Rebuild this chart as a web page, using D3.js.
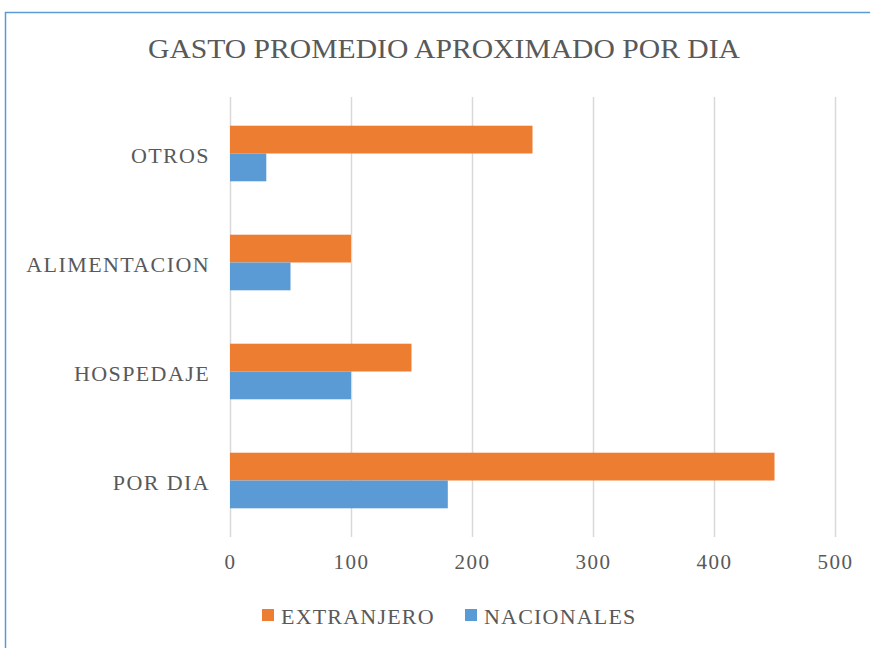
<!DOCTYPE html>
<html>
<head>
<meta charset="utf-8">
<script src="https://cdn.jsdelivr.net/npm/d3@7"></script>
<style>
  body { margin: 0; background: #ffffff; }
  #chart { width: 870px; height: 648px; }
  text { font-family: 'Liberation Serif', 'DejaVu Serif', serif; fill: #595959; }
</style>
</head>
<body>
<div id="chart"></div>
<script>
const categories = ['OTROS', 'ALIMENTACION', 'HOSPEDAJE', 'POR DIA'];
const seriesNames = ['EXTRANJERO', 'NACIONALES'];
const extranjero = [250, 100, 150, 450];
const nacionales = [30, 50, 100, 180];
const xTicks = [0, 100, 200, 300, 400, 500];
const colors = ['#ED7D31', '#5B9BD5'];

const rows = categories.map((c, i) => ({ cat: c, values: [extranjero[i], nacionales[i]] }));

const svg = d3.select('#chart').append('svg')
  .attr('width', 870)
  .attr('height', 648);

// outer chart border (cut off at right/bottom like the screenshot)
svg.append('rect')
  .attr('x', 5.5)
  .attr('y', 12.5)
  .attr('width', 880)
  .attr('height', 660)
  .attr('fill', '#ffffff')
  .attr('stroke', '#5B9BD5')
  .attr('stroke-width', 1.5);

const plot = { left: 230, right: 835, top: 97, bottom: 537 };

const x = d3.scaleLinear().domain([0, 500]).range([plot.left, plot.right]);
const y = d3.scaleBand().domain(categories).range([99, 535]).paddingInner(0.49).paddingOuter(0.245);
const ySub = d3.scaleBand().domain(seriesNames).range([0, y.bandwidth()]);

// title
svg.append('text')
  .attr('x', 444)
  .attr('y', 58)
  .attr('text-anchor', 'middle')
  .style('font-size', '28px')
  .attr('textLength', 592)
  .attr('lengthAdjust', 'spacingAndGlyphs')
  .text('GASTO PROMEDIO APROXIMADO POR DIA');

// gridlines
svg.append('g')
  .selectAll('line')
  .data(xTicks)
  .enter()
  .append('line')
  .attr('x1', d => x(d) + 0.5)
  .attr('x2', d => x(d) + 0.5)
  .attr('y1', plot.top)
  .attr('y2', plot.bottom)
  .attr('stroke', '#d9d9d9')
  .attr('stroke-width', 1.5);

// bars
const groups = svg.append('g')
  .selectAll('g')
  .data(rows)
  .enter()
  .append('g')
  .attr('transform', d => `translate(0,${y(d.cat)})`);

groups.selectAll('rect')
  .data(d => d.values.map((v, i) => ({ name: seriesNames[i], value: v, idx: i })))
  .enter()
  .append('rect')
  .attr('x', x(0))
  .attr('y', d => ySub(d.name))
  .attr('width', d => x(d.value) - x(0))
  .attr('height', ySub.bandwidth())
  .attr('fill', d => colors[d.idx]);

// category labels
const yAxis = svg.append('g')
  .attr('transform', `translate(${plot.left},2)`)
  .call(d3.axisLeft(y).tickSize(0).tickPadding(20));
yAxis.select('.domain').remove();
yAxis.selectAll('text')
  .style('font-size', '22px')
  .style('letter-spacing', '1.4px')
  .attr('fill', '#595959');

// x tick labels
const xAxis = svg.append('g')
  .attr('transform', `translate(0,${plot.bottom})`)
  .call(d3.axisBottom(x).tickValues(xTicks).tickSize(0).tickPadding(17));
xAxis.select('.domain').remove();
xAxis.selectAll('text')
  .style('font-size', '21px')
  .style('letter-spacing', '1.5px')
  .attr('fill', '#595959');

// legend
const legendItems = [
  { name: seriesNames[0], color: colors[0], x: 262 },
  { name: seriesNames[1], color: colors[1], x: 465 }
];
const legend = svg.append('g');
for (const item of legendItems) {
  legend.append('rect')
    .attr('x', item.x)
    .attr('y', 609)
    .attr('width', 12)
    .attr('height', 12)
    .attr('fill', item.color);
  legend.append('text')
    .attr('x', item.x + 19)
    .attr('y', 616)
    .attr('dominant-baseline', 'central')
    .style('font-size', '22px')
    .style('letter-spacing', '1.2px')
    .text(item.name);
}
</script>
</body>
</html>
